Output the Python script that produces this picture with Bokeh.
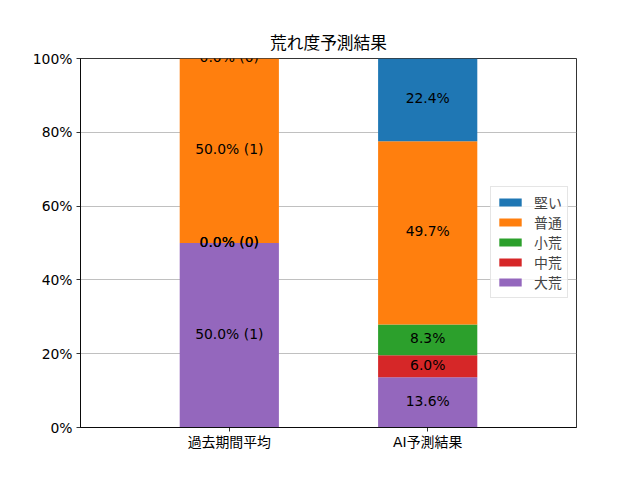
from bokeh.plotting import figure
from bokeh.models import ColumnDataSource, FixedTicker, Range1d, Legend, LegendItem, LabelSet
from bokeh.core.properties import value
from bokeh.embed import file_html
from bokeh.resources import INLINE

categories = ["過去期間平均", "AI予測結果"]
classes = ["大荒", "中荒", "小荒", "普通", "堅い"]  # bottom to top
colors = ["#9467bd", "#d62728", "#2ca02c", "#ff7f0e", "#1f77b4"]
past_pct = [50.0, 0.0, 0.0, 50.0, 0.0]
past_count = [1, 0, 0, 1, 0]
ai_pct = [13.6, 6.0, 8.3, 49.7, 22.4]
y_ticks = [0, 20, 40, 60, 80, 100]
y_tick_labels = ["0%", "20%", "40%", "60%", "80%", "100%"]

CJK = "Noto Sans CJK JP"
MIX = "DejaVu Sans, Noto Sans CJK JP"

p = figure(width=624, height=464, output_backend="svg", toolbar_location=None,
           x_range=Range1d(-0.75, 1.75), y_range=Range1d(0, 100),
           title="荒れ度予測結果", min_border_left=80, min_border_right=48,
           min_border_top=58, min_border_bottom=37)

p.title.align = "center"
p.title.text_font = CJK
p.title.text_font_size = "16.7px"
p.title.text_font_style = "normal"
p.title.text_color = "black"

xs = [0, 1]
series = [past_pct, ai_pct]
renderers = []
for ci, cls in enumerate(classes):
    bottoms = []
    tops = []
    for s in series:
        b = sum(s[:ci])
        bottoms.append(b)
        tops.append(b + s[ci])
    src = ColumnDataSource(dict(x=xs, bottom=bottoms, top=tops))
    r = p.vbar(x="x", width=0.5, bottom="bottom", top="top", source=src,
               fill_color=colors[ci], line_color=None)
    renderers.append(r)

# labels
lx, ly, lt = [], [], []
for ci in range(len(classes)):
    b = sum(past_pct[:ci])
    lx.append(0)
    ly.append(b + past_pct[ci] / 2)
    lt.append(f"{past_pct[ci]:.1f}% ({past_count[ci]})")
    b = sum(ai_pct[:ci])
    lx.append(1)
    ly.append(b + ai_pct[ci] / 2)
    lt.append(f"{ai_pct[ci]:.1f}%")
lsrc = ColumnDataSource(dict(x=lx, y=ly, t=lt))
labels = LabelSet(x="x", y="y", text="t", source=lsrc, text_align="center",
                  text_baseline="middle", y_offset=1.5, text_font=value(MIX),
                  text_font_size="13.9px", text_color="black")
p.add_layout(labels)

items = [LegendItem(label=classes[i], renderers=[renderers[i]]) for i in reversed(range(len(classes)))]
legend = Legend(items=items, location=(410, 129))
legend.label_text_font = CJK
legend.label_text_font_size = "13.9px"
legend.glyph_width = 28
legend.glyph_height = 10
legend.label_height = 20
legend.spacing = 0
legend.padding = 5
legend.margin = 0
legend.label_standoff = 10
legend.border_line_color = "#cccccc"
legend.background_fill_alpha = 0.8
p.add_layout(legend, "center")

p.xgrid.visible = False
p.ygrid.grid_line_color = "#b0b0b0"
p.ygrid.grid_line_width = 0.8
p.ygrid.ticker = FixedTicker(ticks=y_ticks)

p.xaxis.ticker = FixedTicker(ticks=xs)
p.xaxis.major_label_overrides = {i: c for i, c in enumerate(categories)}
p.yaxis.ticker = FixedTicker(ticks=y_ticks)
p.yaxis.major_label_overrides = {t: l for t, l in zip(y_ticks, y_tick_labels)}

for ax in (p.xaxis[0], p.yaxis[0]):
    ax.major_label_text_font = MIX
    ax.major_label_text_font_size = "13.9px"
    ax.major_label_text_color = "black"
    ax.axis_line_color = "black"
    ax.axis_line_width = 0.8
    ax.major_tick_line_color = "black"
    ax.major_tick_line_width = 0.8
    ax.major_tick_out = 4
    ax.major_tick_in = 0
    ax.minor_tick_line_color = None
    ax.major_label_standoff = 4
p.xaxis[0].major_label_standoff = 2

p.outline_line_color = "black"
p.outline_line_width = 0.8
p.outline_line_alpha = 1.0

open("out.html", "w").write(file_html(p, INLINE))
